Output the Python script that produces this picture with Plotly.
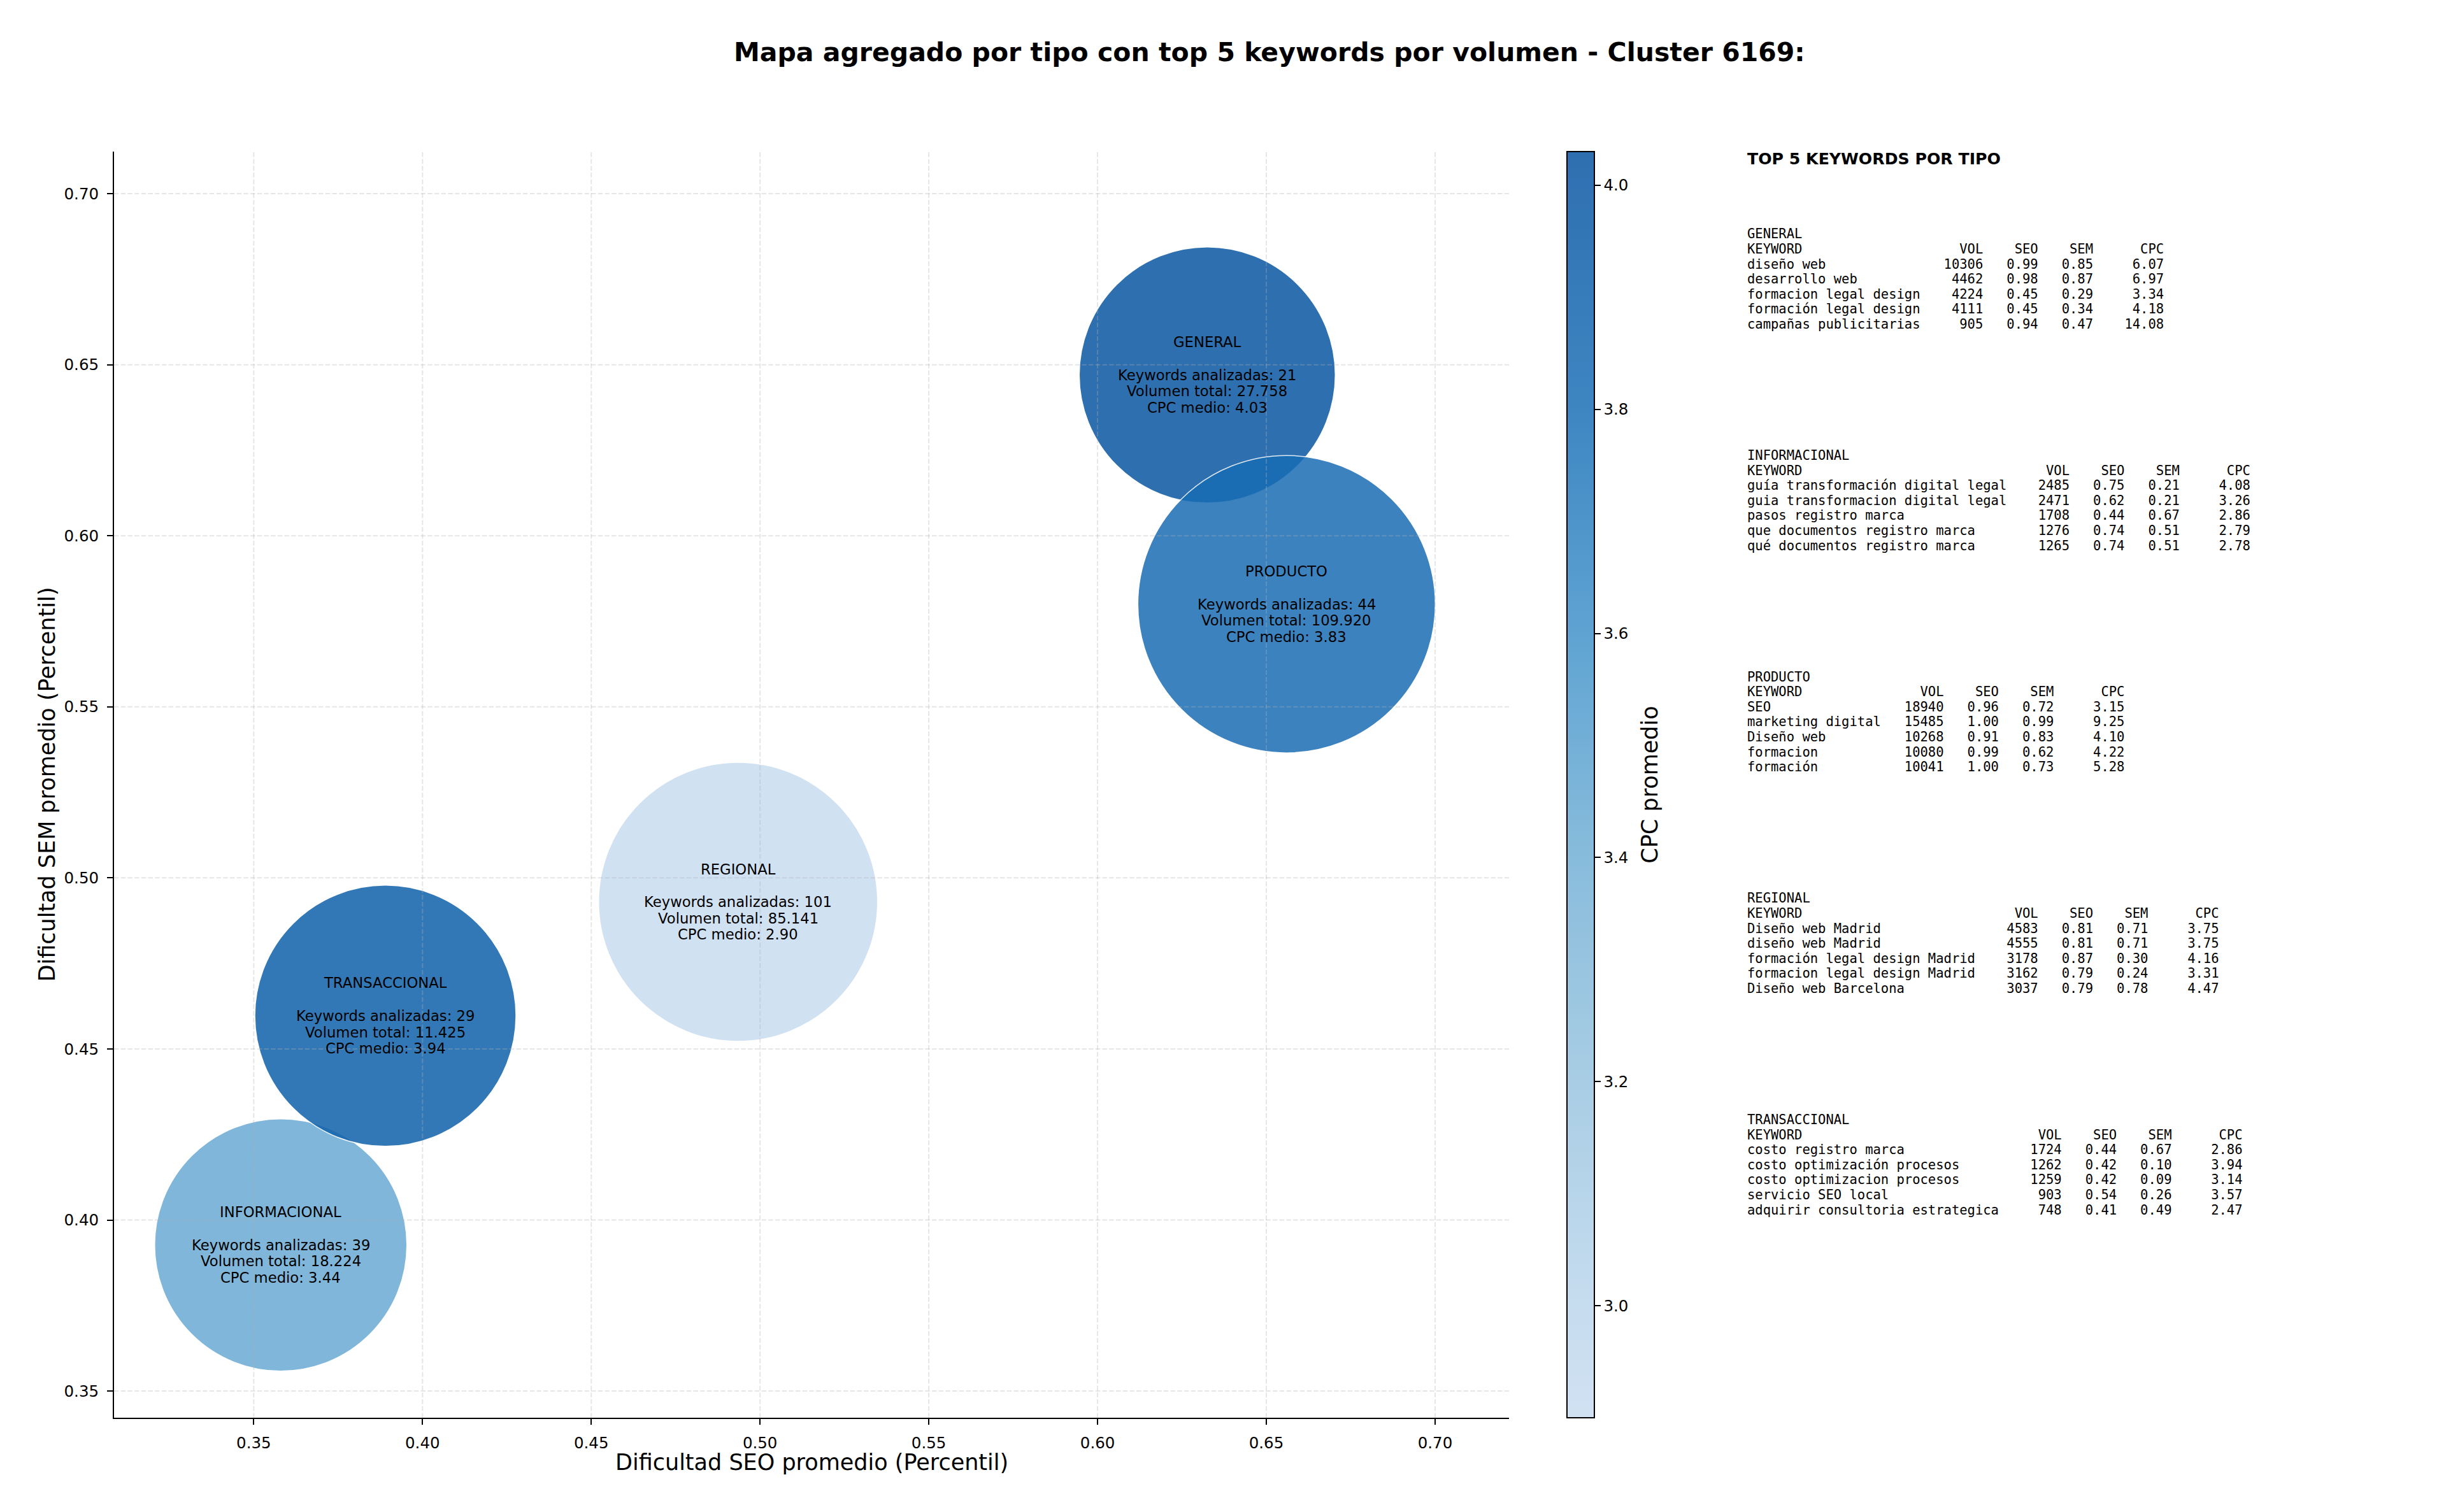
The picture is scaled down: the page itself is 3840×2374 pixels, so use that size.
import plotly.graph_objects as go

# ---------------- DATA ----------------
tipos = ["GENERAL", "INFORMACIONAL", "PRODUCTO", "REGIONAL", "TRANSACCIONAL"]
seo_medio = [0.6325, 0.358, 0.656, 0.4935, 0.389]
sem_medio = [0.647, 0.3927, 0.580, 0.493, 0.4597]
cpc_medio = [4.03, 3.44, 3.83, 2.90, 3.94]
n_keywords = [21, 39, 44, 101, 29]
volumen_total = [27758, 18224, 109920, 85141, 11425]
bubble_size = [402, 396, 467, 438, 410]

x_ticks = [0.35, 0.40, 0.45, 0.50, 0.55, 0.60, 0.65, 0.70]
y_ticks = [0.35, 0.40, 0.45, 0.50, 0.55, 0.60, 0.65, 0.70]
cbar_ticks = [3.0, 3.2, 3.4, 3.6, 3.8, 4.0]

top_keywords = {
    "GENERAL": ["diseño web", "desarrollo web", "formacion legal design",
                "formación legal design", "campañas publicitarias"],
    "INFORMACIONAL": ["guía transformación digital legal", "guia transformacion digital legal",
                      "pasos registro marca", "que documentos registro marca",
                      "qué documentos registro marca"],
    "PRODUCTO": ["SEO", "marketing digital", "Diseño web", "formacion", "formación"],
    "REGIONAL": ["Diseño web Madrid", "diseño web Madrid", "formación legal design Madrid",
                 "formacion legal design Madrid", "Diseño web Barcelona"],
    "TRANSACCIONAL": ["costo registro marca", "costo optimización procesos",
                      "costo optimizacion procesos", "servicio SEO local",
                      "adquirir consultoria estrategica"],
}
top_vol = {
    "GENERAL": [10306, 4462, 4224, 4111, 905],
    "INFORMACIONAL": [2485, 2471, 1708, 1276, 1265],
    "PRODUCTO": [18940, 15485, 10268, 10080, 10041],
    "REGIONAL": [4583, 4555, 3178, 3162, 3037],
    "TRANSACCIONAL": [1724, 1262, 1259, 903, 748],
}
top_seo = {
    "GENERAL": [0.99, 0.98, 0.45, 0.45, 0.94],
    "INFORMACIONAL": [0.75, 0.62, 0.44, 0.74, 0.74],
    "PRODUCTO": [0.96, 1.00, 0.91, 0.99, 1.00],
    "REGIONAL": [0.81, 0.81, 0.87, 0.79, 0.79],
    "TRANSACCIONAL": [0.44, 0.42, 0.42, 0.54, 0.41],
}
top_sem = {
    "GENERAL": [0.85, 0.87, 0.29, 0.34, 0.47],
    "INFORMACIONAL": [0.21, 0.21, 0.67, 0.51, 0.51],
    "PRODUCTO": [0.72, 0.99, 0.83, 0.62, 0.73],
    "REGIONAL": [0.71, 0.71, 0.30, 0.24, 0.78],
    "TRANSACCIONAL": [0.67, 0.10, 0.09, 0.26, 0.49],
}
top_cpc = {
    "GENERAL": [6.07, 6.97, 3.34, 4.18, 14.08],
    "INFORMACIONAL": [4.08, 3.26, 2.86, 2.79, 2.78],
    "PRODUCTO": [3.15, 9.25, 4.10, 4.22, 5.28],
    "REGIONAL": [3.75, 3.75, 4.16, 3.31, 4.47],
    "TRANSACCIONAL": [2.86, 3.94, 3.14, 3.57, 2.47],
}

# ---------------- LAYOUT GEOMETRY (px) ----------------
W, H = 3840, 2374
L_PX, R_PX, T_PX, B_PX = 179, 2369.3, 238, 2226.3
PW, PH = R_PX - L_PX, B_PX - T_PX


def px_x(px):
    return (px - L_PX) / PW


def px_y(py):
    return (B_PX - py) / PH


ALPHA = 0.85
# colour ramp as it appears on white (light -> dark blue)
app_stops = [
    (0.0, (208, 225, 242)),
    (0.09, (198, 220, 239)),
    (0.2665, (168, 205, 228)),
    (0.443, (136, 188, 220)),
    (0.62, (94, 163, 210)),
    (0.796, (61, 134, 194)),
    (1.0, (46, 111, 176)),
]


def unblend(c):
    return tuple(max(0, min(255, round((v - (1 - ALPHA) * 255) / ALPHA))) for v in c)


scale_app = [[t, "rgb(%d,%d,%d)" % c] for t, c in app_stops]
scale_true = [[t, "rgb(%d,%d,%d)" % unblend(c)] for t, c in app_stops]
cmin, cmax = min(cpc_medio), max(cpc_medio)

SANS = "DejaVu Sans"
MONO = "DejaVu Sans Mono"

fig = go.Figure()

fig.add_trace(go.Scatter(
    x=seo_medio, y=sem_medio, mode="markers",
    marker=dict(size=bubble_size, sizemode="diameter", color=cpc_medio,
                colorscale=scale_true, cmin=cmin, cmax=cmax, opacity=ALPHA,
                line=dict(color="white", width=1.5), showscale=False),
    hoverinfo="skip", showlegend=False,
))

# carrier trace for the colour bar (drawn with the apparent, alpha-blended colours)
fig.add_trace(go.Scatter(
    x=seo_medio, y=sem_medio, mode="markers",
    marker=dict(size=1, color=cpc_medio, colorscale=scale_app, cmin=cmin, cmax=cmax,
                opacity=0, showscale=True,
                colorbar=dict(
                    x=px_x(2460.7), xanchor="left", xref="paper", xpad=0,
                    y=0.5, yanchor="middle", ypad=0, len=1, lenmode="fraction",
                    thickness=42.6, thicknessmode="pixels",
                    outlinewidth=2, outlinecolor="black",
                    tickvals=cbar_ticks, ticktext=["%.1f" % v for v in cbar_ticks],
                    ticks="outside", ticklen=9, tickwidth=2, tickcolor="black",
                    tickfont=dict(family=SANS, size=24.5, color="black"),
                )),
    hoverinfo="skip", showlegend=False,
))

shapes = []
grid_line = dict(color="rgba(176,176,176,0.32)", width=2, dash="7.5px,3.2px")
for v in x_ticks:
    shapes.append(dict(type="line", xref="x", yref="paper", x0=v, x1=v, y0=0, y1=1,
                       line=grid_line, layer="above"))
for v in y_ticks:
    shapes.append(dict(type="line", xref="paper", yref="y", x0=0, x1=1, y0=v, y1=v,
                       line=grid_line, layer="above"))

annotations = []
# main title
annotations.append(dict(
    text="<b>Mapa agregado por tipo con top 5 keywords por volumen - Cluster 6169:</b>",
    xref="paper", yref="paper", x=px_x(1993), y=px_y(82.3), xanchor="center", yanchor="middle",
    showarrow=False, font=dict(family=SANS, size=41, color="black")))
# axis titles
annotations.append(dict(
    text="Dificultad SEO promedio (Percentil)", xref="paper", yref="paper",
    x=0.5, y=px_y(2296), xanchor="center", yanchor="middle", showarrow=False,
    font=dict(family=SANS, size=35, color="black")))
annotations.append(dict(
    text="Dificultad SEM promedio (Percentil)", xref="paper", yref="paper",
    x=px_x(73.5), y=0.5, xanchor="center", yanchor="middle", textangle=-90,
    showarrow=False, font=dict(family=SANS, size=35, color="black")))
annotations.append(dict(
    text="CPC promedio", xref="paper", yref="paper",
    x=px_x(2590), y=0.5, xanchor="center", yanchor="middle", textangle=-90,
    showarrow=False, font=dict(family=SANS, size=35, color="black")))

# bubble labels
LINE_H = 25.7
for i, t in enumerate(tipos):
    lines = [t, "", "Keywords analizadas: %d" % n_keywords[i],
             "Volumen total: " + format(volumen_total[i], ",").replace(",", "."),
             "CPC medio: %.2f" % cpc_medio[i]]
    for j, s in enumerate(lines):
        if not s:
            continue
        annotations.append(dict(
            text=s, xref="x", yref="y", x=seo_medio[i], y=sem_medio[i],
            xanchor="center", yanchor="middle", yshift=-(j - 2) * LINE_H,
            showarrow=False, font=dict(family=SANS, size=22.7, color="black")))

# right-hand text panel
PANEL_X = 2741.5
annotations.append(dict(
    text="<b>TOP 5 KEYWORDS POR TIPO</b>", xref="paper", yref="paper",
    x=px_x(PANEL_X), y=px_y(249.7), xanchor="left", yanchor="middle",
    showarrow=False, font=dict(family=SANS, size=25.2, color="black")))

NB = "\u00a0"
BLOCK_Y0, BLOCK_STEP, ROW_H = 367.4, 347.7, 23.6
for k, t in enumerate(tipos):
    kws = top_keywords[t]
    w = max(len(s) for s in kws)
    rows = [t, "KEYWORD".ljust(w) + "VOL".rjust(8) + "SEO".rjust(7) + "SEM".rjust(7) + "CPC".rjust(9)]
    for kw, v, s1, s2, c in zip(kws, top_vol[t], top_seo[t], top_sem[t], top_cpc[t]):
        rows.append(kw.ljust(w) + ("%d" % v).rjust(8) + ("%.2f" % s1).rjust(7)
                    + ("%.2f" % s2).rjust(7) + ("%.2f" % c).rjust(9))
    for r, line in enumerate(rows):
        annotations.append(dict(
            text=line.replace(" ", NB), xref="paper", yref="paper",
            x=px_x(PANEL_X), y=px_y(BLOCK_Y0 + k * BLOCK_STEP + r * ROW_H),
            xanchor="left", yanchor="middle", showarrow=False,
            font=dict(family=MONO, size=20.5, color="black")))

axis_common = dict(
    showgrid=False, zeroline=False, showline=True, linecolor="black", linewidth=2,
    ticks="outside", ticklen=9, tickwidth=2, tickcolor="black", mirror=False,
    tickfont=dict(family=SANS, size=24.5, color="black"),
)

fig.update_layout(
    width=W, height=H,
    margin=dict(l=L_PX, r=W - R_PX, t=T_PX, b=H - B_PX, pad=0, autoexpand=False),
    paper_bgcolor="white", plot_bgcolor="white",
    xaxis=dict(range=[0.3086, 0.7219], tickvals=x_ticks,
               ticktext=["%.2f" % v for v in x_ticks], ticklabelstandoff=8, **axis_common),
    yaxis=dict(range=[0.3422, 0.7123], tickvals=y_ticks,
               ticktext=["%.2f" % v for v in y_ticks], ticklabelstandoff=8, **axis_common),
    shapes=shapes, annotations=annotations, showlegend=False,
    font=dict(family=SANS, color="black"),
)

fig.write_html("out.html", config={"displayModeBar": False},
               post_script="document.body.style.margin='0';")
